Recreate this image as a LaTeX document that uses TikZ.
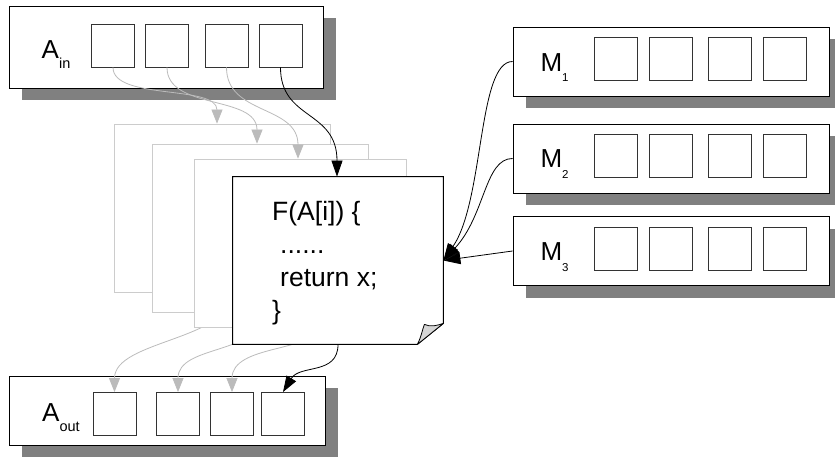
\documentclass[tikz,border=0pt]{standalone}
\usepackage{fontspec}
\setmainfont{Liberation Sans}
\usetikzlibrary{arrows.meta,shadows}

\pgfdeclarelayer{background}
\pgfsetlayers{background,main}

\definecolor{shadowgray}{HTML}{808080}
\definecolor{pagegray}{HTML}{CCCCCC}
\definecolor{flowgray}{HTML}{BBBBBB}
\definecolor{foldgray}{HTML}{D6D6D6}
\definecolor{cellline}{HTML}{333333}

% lowered subscripts of the array labels
\newcommand\arrsub[1]{\raisebox{-10pt}{\fontsize{14.5}{16}\selectfont #1}}
\newcommand\memsub[1]{\raisebox{-10.5pt}{\fontsize{11.5}{13}\selectfont #1}}

\begin{document}
\begin{tikzpicture}[x=1pt,y=-1pt,
  arraybox/.style={draw=black, line width=0.9pt, fill=white, inner sep=0pt,
    minimum width=316pt, minimum height=69pt,
    drop shadow={shadow xshift=13pt, shadow yshift=-12pt, fill=shadowgray, opacity=1}},
  cell/.style={draw=cellline, line width=0.9pt, fill=white, inner sep=0pt,
    minimum width=43pt, minimum height=43pt},
  page/.style={draw=pagegray, line width=0.8pt, fill=white, inner sep=0pt,
    minimum width=216pt, minimum height=168pt},
  biglabel/.style={anchor=base west, inner sep=0pt, font=\fontsize{26}{30}\selectfont},
  codeline/.style={anchor=base west, inner sep=0pt, font=\fontsize{26.5}{30}\selectfont},
  grayflow/.style={draw=flowgray, line width=0.8pt, -{Triangle[length=14pt,width=11pt]}},
  blackflow/.style={draw=black, line width=0.8pt, -{Triangle[length=16pt,width=11pt]}},
  memflow/.style={draw=black, line width=0.8pt, -{Triangle[length=17pt,width=12pt]}},
]
\useasboundingbox (0,0) rectangle (835,457);

% input array A_in
\node[arraybox, minimum width=314pt, minimum height=82pt] (ain) at (166,47) {};
\foreach \i/\x in {1/113,2/167,3/226.5,4/280.5}
  \node[cell] (a\i) at (\x,45.5) {};
\node[biglabel] (ainlabel) at (41.5,58.3) {A\arrsub{in}};

% memory arrays M_1 .. M_3
\foreach \k/\yb/\yc in {1/61.5/58.5,2/158.5/155.5,3/251/248.5} {
  \node[arraybox] (m\k) at (671,\yb) {};
  \foreach \i/\x in {1/615.5,2/670.5,3/729.5,4/784.5}
    \node[cell] (m\k c\i) at (\x,\yc) {};
}
\node[biglabel] (m1label) at (540.3,71.5) {M\memsub{1}};
\node[biglabel] (m2label) at (540.3,168) {M\memsub{2}};
\node[biglabel] (m3label) at (540.3,260.5) {M\memsub{3}};

% output array A_out (kept below the incoming connectors)
\begin{pgfonlayer}{background}
  \node[arraybox] (aout) at (167,410.5) {};
  \foreach \i/\x in {1/114.5,2/178,3/232,4/283}
    \node[cell] (o\i) at (\x,414) {};
  \node[biglabel] (aoutlabel) at (42,421.5) {A\arrsub{out}};
\end{pgfonlayer}

% stacked pages of the mapped function
\node[page] (p1) at (222,208) {};
\node[page] (p2) at (260,228) {};
\node[page, minimum width=212pt] (p3) at (300,243) {};
\node[page, draw=none, fill=none, minimum width=210pt, minimum height=167pt] (p4) at (338,260.5) {};
\draw[line width=0.9pt, fill=white]
  (p4.north west) -- (p4.north east) -- ([yshift=21pt]p4.south east)
  -- ([xshift=-26pt]p4.south east) -- (p4.south west) -- cycle;
% dog-ear
\draw[line width=0.8pt, fill=foldgray, line join=round]
  ([xshift=-26pt]p4.south east)
  .. controls ([shift={(-22pt,8pt)}]p4.south east) and ([shift={(-21pt,15pt)}]p4.south east)
  .. ([shift={(-19pt,20pt)}]p4.south east)
  .. controls ([shift={(-13pt,17pt)}]p4.south east) and ([shift={(-6pt,19pt)}]p4.south east)
  .. ([yshift=21pt]p4.south east) -- cycle;

% function body
\node[codeline] (code1) at (272,220) {F(A[i]) \{};
\node[codeline] (code2) at (280,253) {......};
\node[codeline] (code3) at (280,286.5) {return x;};
\node[codeline] (code4) at (272,319) {\}};

% results flowing into A_out (hidden behind the pages above them)
\begin{pgfonlayer}{background}
  \draw[grayflow] ([xshift=10pt]p1.south) .. controls +(0,48) and +(0,-52) .. (o1.north);
  \draw[grayflow] ([xshift=2pt]p2.south) .. controls +(0,43) and +(0,-48) .. (o2.north);
  \draw[grayflow] ([xshift=15pt]p3.south) .. controls +(0,25) and +(0,-48) .. (o3.north);
  \draw[blackflow] (p4.south) .. controls +(0,31) and +(17,-28) .. (o4.north);
\end{pgfonlayer}

% elements of A_in fed to the pages
\draw[grayflow] (a1.south) .. controls +(0,33) and +(0,-39) .. ([xshift=-5pt]p1.north);
\draw[grayflow] (a2.south) .. controls +(0,43) and +(0,-49) .. ([xshift=-3pt]p2.north);
\draw[grayflow] (a3.south) .. controls +(0,48) and +(0,-54) .. ([xshift=-2pt]p3.north);
\draw[blackflow] (a4.south) .. controls +(0,53) and +(0,-67) .. ([xshift=-1pt]p4.north);

% shared memory read by the function
\draw[memflow] (m1.west) .. controls +(-35,0) and +(41,-60) .. (p4.east);
\draw[memflow] (m2.west) .. controls +(-28,0) and +(42,-45) .. (p4.east);
\draw[memflow] (m3.west) -- (p4.east);
\end{tikzpicture}
\end{document}
